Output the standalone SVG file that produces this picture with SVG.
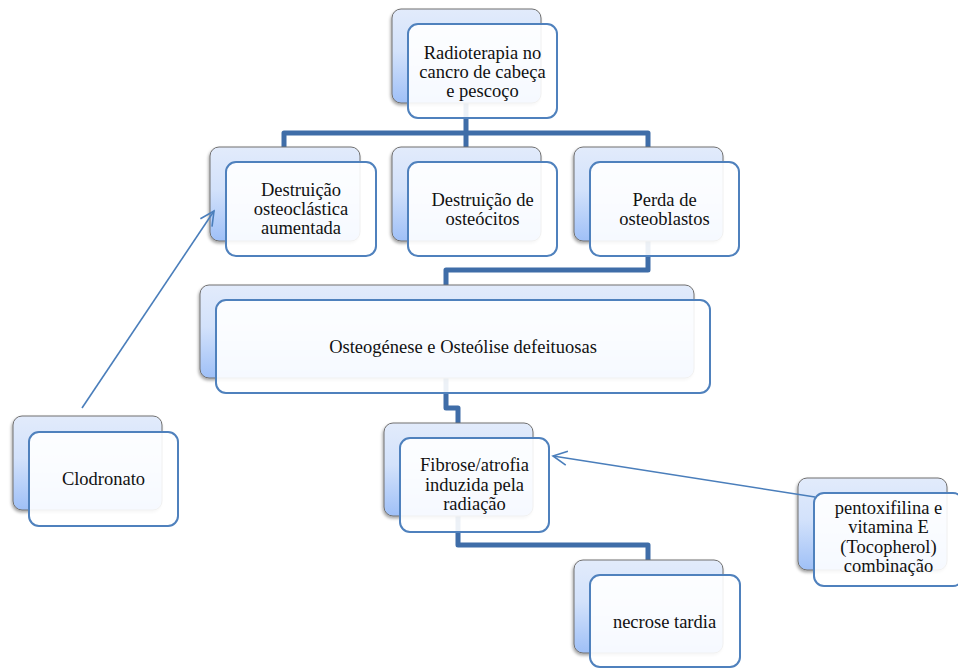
<svg xmlns="http://www.w3.org/2000/svg" width="958" height="668" viewBox="0 0 958 668">
<defs>
<linearGradient id="bg" x1="0" y1="0" x2="0" y2="1">
<stop offset="0" stop-color="#e2ebfb"/>
<stop offset="0.45" stop-color="#d3e2fb"/>
<stop offset="1" stop-color="#9fc0f7"/>
</linearGradient>
<filter id="sh" x="-10%" y="-10%" width="125%" height="130%">
<feDropShadow dx="-1" dy="2" stdDeviation="1.6" flood-color="#000" flood-opacity="0.35"/>
</filter>
<marker id="ah" markerUnits="userSpaceOnUse" markerWidth="20" markerHeight="20" refX="15" refY="8" orient="auto">
<path d="M1,1 L15,8 L1,15" fill="none" stroke="#4a7ebb" stroke-width="1.6"/>
</marker>
</defs>
<style>
.back{fill:url(#bg);stroke:#707070;stroke-width:1;filter:url(#sh)}
.front{fill:#ffffff;fill-opacity:0.9;stroke:#4f81bd;stroke-width:2}
.t{font-family:"Liberation Serif","Times New Roman",serif;font-size:18.5px;fill:#111;text-anchor:middle}
.conn{fill:none;stroke:#3f6da8;stroke-width:5;stroke-linejoin:round}
.arr{fill:none;stroke:#4a7ebb;stroke-width:1.6}
</style>
<rect width="958" height="668" fill="#ffffff"/>
<g id="connectors">
<path class="conn" d="M466,103 V133 H284 V147"/>
<path class="conn" d="M466,133 V147"/>
<path class="conn" d="M466,133 H648 V147"/>
<path class="conn" d="M648,241 V270 H446 V285"/>
<path class="conn" d="M446,378 V408 H458 V423"/>
<path class="conn" d="M458,516 V545 H648 V560"/>
</g>
<g id="n-radioterapia">
<rect class="back" x="392" y="9" width="149" height="94" rx="9"/>
<rect class="front" x="408" y="24" width="149" height="94" rx="10"/>
<text class="t" x="482.5" y="59">Radioterapia no</text>
<text class="t" x="482.5" y="78">cancro de cabeça</text>
<text class="t" x="482.5" y="97">e pescoço</text>
</g>
<g id="n-osteoclastica">
<rect class="back" x="210" y="147" width="150" height="94" rx="9"/>
<rect class="front" x="226" y="162" width="150" height="94" rx="10"/>
<text class="t" x="301" y="196">Destruição</text>
<text class="t" x="301" y="215">osteoclástica</text>
<text class="t" x="301" y="234">aumentada</text>
</g>
<g id="n-osteocitos">
<rect class="back" x="392" y="147" width="149" height="94" rx="9"/>
<rect class="front" x="408" y="162" width="149" height="94" rx="10"/>
<text class="t" x="482.5" y="206">Destruição de</text>
<text class="t" x="482.5" y="225">osteócitos</text>
</g>
<g id="n-osteoblastos">
<rect class="back" x="574" y="147" width="149" height="94" rx="9"/>
<rect class="front" x="590" y="162" width="149" height="94" rx="10"/>
<text class="t" x="664.5" y="206">Perda de</text>
<text class="t" x="664.5" y="225">osteoblastos</text>
</g>
<g id="n-osteogenese">
<rect class="back" x="200" y="285" width="494" height="93" rx="9"/>
<rect class="front" x="216" y="300" width="494" height="93" rx="10"/>
<text class="t" x="463" y="353">Osteogénese e Osteólise defeituosas</text>
</g>
<g id="n-fibrose">
<rect class="back" x="384" y="423" width="149" height="93" rx="9"/>
<rect class="front" x="400" y="438" width="149" height="94" rx="10"/>
<text class="t" x="474.5" y="471">Fibrose/atrofia</text>
<text class="t" x="474.5" y="491">induzida pela</text>
<text class="t" x="474.5" y="510">radiação</text>
</g>
<g id="n-necrose">
<rect class="back" x="574" y="560" width="149" height="93" rx="9"/>
<rect class="front" x="590" y="575" width="150" height="92" rx="10"/>
<text class="t" x="664.5" y="628">necrose tardia</text>
</g>
<g id="n-clodronato">
<rect class="back" x="13" y="416" width="149" height="94" rx="9"/>
<rect class="front" x="29" y="432" width="149" height="94" rx="10"/>
<text class="t" x="103.5" y="485">Clodronato</text>
</g>
<g id="n-pentoxifilina">
<rect class="back" x="798" y="478" width="149" height="92" rx="9"/>
<rect class="front" x="814" y="493" width="149" height="93" rx="10"/>
<text class="t" x="888.5" y="514">pentoxifilina e</text>
<text class="t" x="888.5" y="533">vitamina E</text>
<text class="t" x="888.5" y="553">(Tocopherol)</text>
<text class="t" x="888.5" y="572">combinação</text>
</g>
<g id="arrows">
<line class="arr" x1="82" y1="408" x2="214" y2="211" marker-end="url(#ah)"/>
<line class="arr" x1="815" y1="497" x2="553" y2="456" marker-end="url(#ah)"/>
</g>
</svg>
